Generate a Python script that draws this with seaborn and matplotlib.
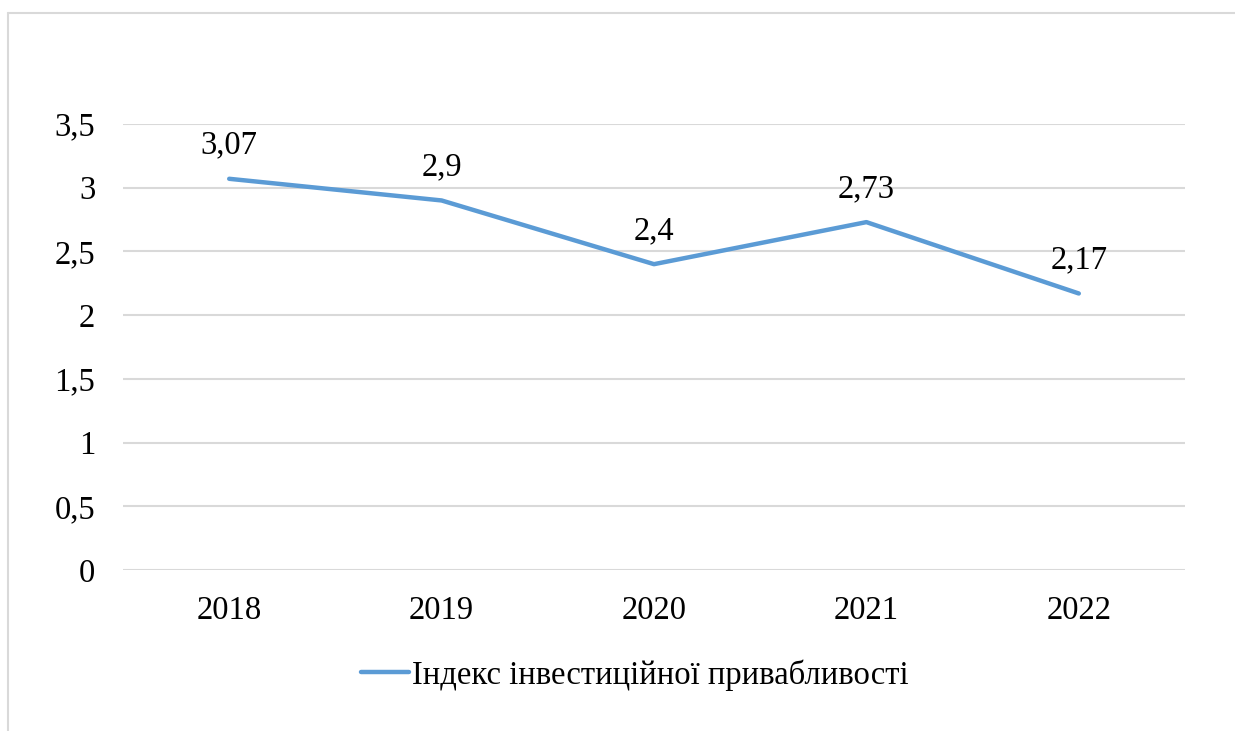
import matplotlib
matplotlib.use("Agg")
import matplotlib.pyplot as plt
import seaborn as sns
from matplotlib.lines import Line2D

years = ["2018", "2019", "2020", "2021", "2022"]
index_values = [3.07, 2.9, 2.4, 2.73, 2.17]
value_labels = ["3,07", "2,9", "2,4", "2,73", "2,17"]
y_ticks = [0, 0.5, 1, 1.5, 2, 2.5, 3, 3.5]
y_tick_labels = ["0", "0,5", "1", "1,5", "2", "2,5", "3", "3,5"]
series_name = "Індекс інвестиційної привабливості"

sns.set_style("white")
plt.rcParams["font.family"] = ["Liberation Serif", "DejaVu Serif"]
plt.rcParams["text.color"] = "black"
plt.rcParams["xtick.color"] = "black"
plt.rcParams["ytick.color"] = "black"

fs = 23.5
fig = plt.figure(figsize=(12.35, 7.31), dpi=100)
ax = fig.add_axes([123 / 1235, 1 - 570 / 731, 1062 / 1235, 446 / 731])

line_color = "#5B9BD5"
grid_color = "#D9D9D9"

# horizontal gridlines like in Excel
for t in y_ticks:
    ax.axhline(t, color=grid_color, lw=1.5, zorder=0)

pos = list(range(len(years)))
sns.lineplot(x=pos, y=index_values, ax=ax, color=line_color, lw=3.2,
             solid_capstyle="round", label=series_name, legend=False)

for x, y, lab in zip(pos, index_values, value_labels):
    ax.annotate(lab, (x, y), xytext=(0, 24), textcoords="offset points",
                ha="center", va="center", fontsize=fs, color="black")

ax.set_xlim(-0.5, len(years) - 0.5)
ax.set_ylim(0, 3.5)
ax.set_xticks(pos)
ax.set_xticklabels(years, fontsize=fs)
ax.set_yticks(y_ticks)
ax.set_yticklabels(y_tick_labels, fontsize=fs)
ax.tick_params(axis="both", length=0, colors="black")
ax.tick_params(axis="x", pad=18.5)
ax.tick_params(axis="y", pad=20)
for s in ax.spines.values():
    s.set_visible(False)

handle = Line2D([0], [0], color=line_color, lw=3.2, solid_capstyle="round")
fig.legend([handle], [series_name], loc="center", bbox_to_anchor=(635 / 1235, 1 - 675 / 731),
           frameon=False, fontsize=fs, handlelength=1.45, handletextpad=0.1)

# outer chart border (partly cropped in the original)
fig.add_artist(Line2D([8 / 1235, 1.0], [1 - 13 / 731, 1 - 13 / 731], color=grid_color, lw=1.5))
fig.add_artist(Line2D([8 / 1235, 8 / 1235], [0.0, 1 - 13 / 731], color=grid_color, lw=1.5))

fig.savefig("out.png", dpi=100)
plt.close(fig)
